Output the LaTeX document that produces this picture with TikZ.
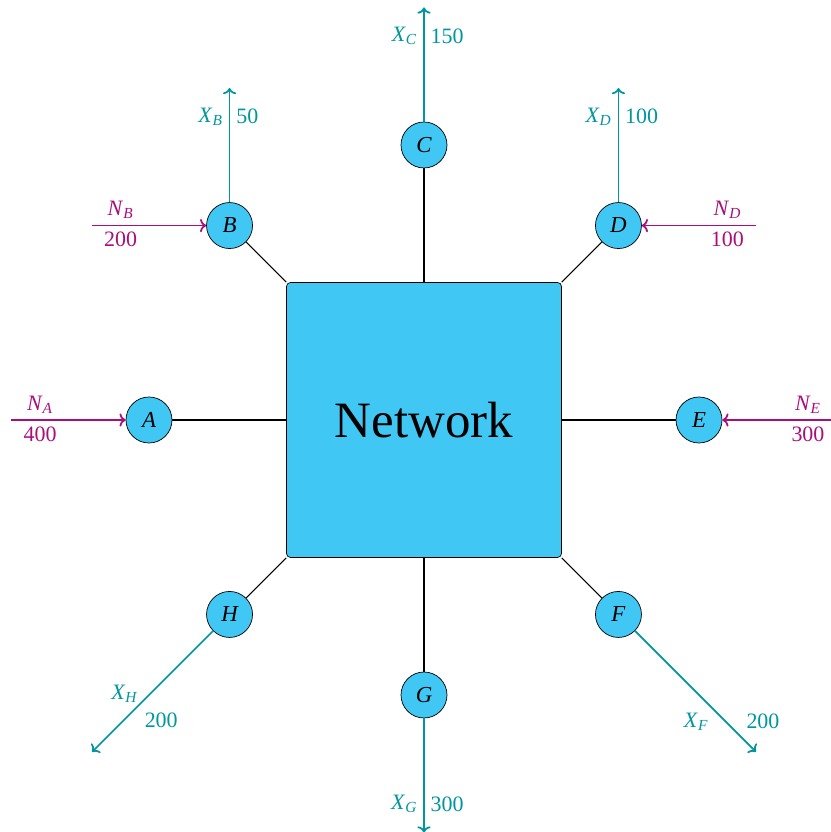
\documentclass[tikz,border=0pt]{standalone}
\usepackage{fontspec}
\setmainfont{Liberation Serif}
\usetikzlibrary{arrows,arrows.meta}

\definecolor{netblue}{RGB}{64,199,244}
\definecolor{outteal}{RGB}{0,150,160}
\definecolor{inmag}{RGB}{168,15,122}

\newcommand{\flowlbl}[2]{\textit{#1}\textsubscript{\textit{#2}}}

\begin{document}
\begin{tikzpicture}[>={To[length=3.5pt,width=7.5pt]}]
			\tikzstyle{site}=[circle,draw,fill=netblue,minimum size=0.92cm,inner sep=0pt,font=\fontsize{13}{15}\selectfont\itshape]
			\tikzstyle{core}=[rectangle,draw,fill=netblue,rounded corners=0.08cm,minimum size=5.5cm,font=\fontsize{29}{32}\selectfont]
			\tikzstyle{link}=[semithick]
			\tikzstyle{flowout}=[->,line width=1pt,outteal,font=\fontsize{12.5}{15}\selectfont]
			\tikzstyle{flowin}=[->,line width=1pt,inmag,font=\fontsize{12.5}{15}\selectfont]
			\useasboundingbox (-8.48,-8.24) rectangle (8.12,8.4);
			
			\node[core] (net) at (0,0) {Network};
			\node[site] (A) at (180:5.5) {A};
			\node[site] (B) at (135:5.5) {B};
			\node[site] (C) at (90:5.5) {C};
			\node[site] (D) at (45:5.5) {D};
			\node[site] (E) at (0:5.5) {E};
			\node[site] (F) at (-45:5.5) {F};
			\node[site] (G) at (-90:5.5) {G};
			\node[site] (H) at (-135:5.5) {H};
			
			\foreach \s in {A,B,C,D,E,F,G,H}
			\draw[link] (\s) -- (net);
			
			% outflows
			\path (B) ++(0,2.75) coordinate (xB);
			\path (C) ++(0,2.75) coordinate (xC);
			\path (D) ++(0,2.75) coordinate (xD);
			\path (F) ++(2.75,-2.75) coordinate (xF);
			\path (G) ++(0,-2.75) coordinate (xG);
			\path (H) ++(-2.75,-2.75) coordinate (xH);
			\draw[flowout] (B) -- (xB) node[pos=0.75,left] (lxB) {\flowlbl{X}{B}} node[pos=0.75,right] (vxB) {50};
			\draw[flowout] (C) -- (xC) node[pos=0.75,left] (lxC) {\flowlbl{X}{C}} node[pos=0.75,right] (vxC) {150};
			\draw[flowout] (D) -- (xD) node[pos=0.75,left] (lxD) {\flowlbl{X}{D}} node[pos=0.75,right] (vxD) {100};
			\draw[flowout] (G) -- (xG) node[pos=0.75,left] (lxG) {\flowlbl{X}{G}} node[pos=0.75,right] (vxG) {300};
			\draw[flowout] (F) -- (xF) node[pos=0.75,left,xshift=-6pt] (lxF) {\flowlbl{X}{F}} node[pos=0.75,right,xshift=8pt] (vxF) {200};
			\draw[flowout] (H) -- (xH) node[pos=0.52,left,xshift=-3pt] (lxH) {\flowlbl{X}{H}} node[pos=0.62,below right] (vxH) {200};
			
			% inflows
			\path (A) ++(-2.75,0) coordinate (nA);
			\path (B) ++(-2.75,0) coordinate (nB);
			\path (D) ++(2.75,0) coordinate (nD);
			\path (E) ++(2.75,0) coordinate (nE);
			\draw[flowin] (nA) -- (A) node[pos=0.25,above] (lnA) {\flowlbl{N}{A}} node[pos=0.25,below] (vnA) {400};
			\draw[flowin] (nB) -- (B) node[pos=0.25,above] (lnB) {\flowlbl{N}{B}} node[pos=0.25,below] (vnB) {200};
			\draw[flowin] (nD) -- (D) node[pos=0.25,above] (lnD) {\flowlbl{N}{D}} node[pos=0.25,below] (vnD) {100};
			\draw[flowin] (nE) -- (E) node[pos=0.25,above] (lnE) {\flowlbl{N}{E}} node[pos=0.25,below] (vnE) {300};
			
			\end{tikzpicture}
\end{document}
